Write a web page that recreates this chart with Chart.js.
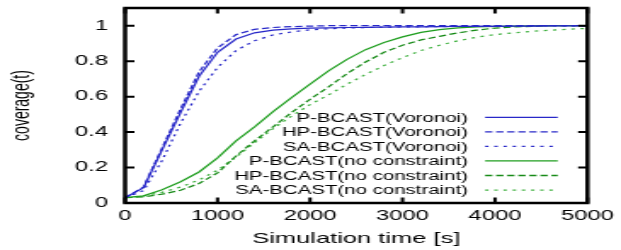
<!DOCTYPE html>
<html>
<head>
<meta charset="utf-8">
<script src="https://cdn.jsdelivr.net/npm/chart.js@4.4.1/dist/chart.umd.min.js"></script>
<style>
  html, body { margin: 0; padding: 0; background: #ffffff; overflow: hidden; }
  #wrap { width: 365px; height: 250px; transform: scaleX(1.7014); transform-origin: 0 0; }
  canvas { display: block; }
</style>
</head>
<body>
<div id="wrap"><canvas id="c" width="365" height="250"></canvas></div>
<script>
// ---- data ----
const times = [0,200,400,600,800,1000,1200,1400,1600,1800,2000,2200,2400,2600,2800,3000,3200,3400,3600,3800,4000,4200,4400,4600,4800,5000];

const seriesLabels = [
  'P-BCAST(Voronoi)',
  'HP-BCAST(Voronoi)',
  'SA-BCAST(Voronoi)',
  'P-BCAST(no constraint)',
  'HP-BCAST(no constraint)',
  'SA-BCAST(no constraint)'
];

const pVoronoi  = [0.03,0.086,0.30,0.51,0.715,0.85,0.925,0.96,0.975,0.982,0.986,0.988,0.99,0.991,0.992,0.993,0.994,0.995,0.996,0.997,0.997,0.998,0.998,0.999,0.999,1.0];
const hpVoronoi = [0.03,0.09,0.31,0.53,0.74,0.875,0.95,0.98,0.99,0.995,0.998,1.0,1.0,1.0,1.0,1.0,1.0,1.0,1.0,1.0,1.0,1.0,1.0,1.0,1.0,1.0];
const saVoronoi = [0.03,0.07,0.24,0.45,0.63,0.765,0.86,0.915,0.948,0.965,0.977,0.983,0.987,0.99,0.992,0.993,0.994,0.995,0.996,0.997,0.997,0.998,0.998,0.999,0.999,1.0];
const pNoConstraint  = [0.03,0.04,0.075,0.12,0.175,0.255,0.35,0.43,0.515,0.595,0.67,0.745,0.81,0.865,0.905,0.937,0.962,0.978,0.988,0.993,0.996,0.998,0.999,1.0,1.0,1.0];
const hpNoConstraint = [0.03,0.035,0.05,0.072,0.11,0.17,0.265,0.35,0.43,0.51,0.585,0.655,0.73,0.795,0.85,0.89,0.92,0.94,0.96,0.975,0.987,0.993,0.997,1.0,1.0,1.0];
const saNoConstraint = [0.03,0.04,0.06,0.09,0.13,0.185,0.26,0.34,0.42,0.49,0.555,0.61,0.67,0.725,0.775,0.82,0.86,0.89,0.915,0.935,0.95,0.96,0.968,0.975,0.98,0.985];

const xTicks = [0,1000,2000,3000,4000,5000];
const yTicks = [0,0.2,0.4,0.6,0.8,1];
const xTitle = 'Simulation time [s]';
const yTitle = 'coverage(t)';

// ---- styles ----
const BLUE = '#2828c8';
const GREEN = '#1f9e1f';
const GREEN_D = '#178a17';
const GREEN_L = '#3fb03f';
const DASH = [4.3, 2.2];
const DOT = [2.0, 3.4];

function pts(vals) { return times.map((t, i) => ({x: t, y: vals[i]})); }

const styles = [
  {c: BLUE, d: []},
  {c: BLUE, d: DASH},
  {c: BLUE, d: DOT},
  {c: GREEN, d: []},
  {c: GREEN_D, d: DASH},
  {c: GREEN_L, d: DOT}
];
const allValues = [pVoronoi, hpVoronoi, saVoronoi, pNoConstraint, hpNoConstraint, saNoConstraint];

const datasets = allValues.map((v, i) => ({
  label: seriesLabels[i],
  data: pts(v),
  borderColor: styles[i].c,
  backgroundColor: styles[i].c,
  borderDash: styles[i].d,
  borderWidth: 1.25,
  pointRadius: 0,
  tension: 0,
  fill: false
}));

const FONT = '"Liberation Sans", Arial, Helvetica, sans-serif';

// inward tick marks + frame, gnuplot style
const framePlugin = {
  id: 'frame',
  afterDraw(chart) {
    const ctx = chart.ctx;
    const a = chart.chartArea;
    const xs = chart.scales.x, ys = chart.scales.y;
    const L = 5.5;
    ctx.save();
    ctx.strokeStyle = '#000';
    ctx.lineWidth = 2;
    ctx.beginPath();
    yTicks.forEach(v => {
      const y = ys.getPixelForValue(v);
      ctx.moveTo(a.left, y); ctx.lineTo(a.left + L, y);
      ctx.moveTo(a.right, y); ctx.lineTo(a.right - L, y);
    });
    xTicks.forEach(v => {
      const x = xs.getPixelForValue(v);
      ctx.moveTo(x, a.bottom); ctx.lineTo(x, a.bottom - L);
      ctx.moveTo(x, a.top); ctx.lineTo(x, a.top + L);
    });
    ctx.stroke();
    ctx.lineWidth = 2.5;
    ctx.strokeRect(a.left, a.top, a.right - a.left, a.bottom - a.top);
    ctx.restore();
  }
};

// gnuplot-style key: text right-aligned, line sample on the right
const keyPlugin = {
  id: 'key',
  afterDatasetsDraw(chart, args, opts) {
    const ctx = chart.ctx;
    ctx.save();
    ctx.font = opts.font;
    ctx.textAlign = 'right';
    ctx.textBaseline = 'middle';
    chart.data.datasets.forEach((ds, i) => {
      const y = opts.top + i * opts.step;
      ctx.fillStyle = '#000';
      ctx.fillText(ds.label, opts.textRight, y + 1);
      ctx.beginPath();
      ctx.strokeStyle = ds.borderColor;
      ctx.lineWidth = 1.3;
      ctx.setLineDash(ds.borderDash || []);
      ctx.moveTo(opts.lineLeft, y);
      ctx.lineTo(opts.lineRight, y);
      ctx.stroke();
      ctx.setLineDash([]);
    });
    ctx.restore();
  }
};

new Chart(document.getElementById('c'), {
  type: 'line',
  data: { datasets },
  plugins: [framePlugin, keyPlugin],
  options: {
    responsive: false,
    animation: false,
    devicePixelRatio: 1,
    layout: { padding: { left: 0, right: 19.7, top: 8, bottom: 0 } },
    plugins: {
      legend: { display: false },
      tooltip: { enabled: false },
      key: { font: '12px ' + FONT, top: 117.3, step: 14.55, textRight: 275, lineLeft: 285.1, lineRight: 327.8 }
    },
    scales: {
      x: {
        type: 'linear',
        min: 0, max: 5000,
        afterFit(s) { s.height = 47; s.paddingLeft = 0; s.paddingRight = 0; },
        afterBuildTicks(s) { s.ticks = xTicks.map(v => ({value: v})); },
        grid: { display: false, drawTicks: false },
        border: { display: false },
        ticks: { color: '#000', font: { family: FONT, size: 14 }, padding: 5, maxRotation: 0, callback: v => String(v) },
        title: { display: true, text: xTitle, color: '#000', font: { family: FONT, size: 15 }, padding: { top: 0, bottom: 2.5 } }
      },
      y: {
        type: 'linear',
        min: 0, max: 1.1,
        afterFit(s) { s.width = 73.5; s.paddingTop = 0; s.paddingBottom = 0; },
        afterBuildTicks(s) { s.ticks = yTicks.map(v => ({value: v})); },
        grid: { display: false, drawTicks: false },
        border: { display: false },
        ticks: { color: '#000', font: { family: FONT, size: 14 }, padding: 10, callback: v => String(v) },
        title: { display: true, text: yTitle, color: '#000', font: { family: FONT, size: 14 }, padding: { top: 5, bottom: 0 } }
      }
    }
  }
});
</script>
</body>
</html>
